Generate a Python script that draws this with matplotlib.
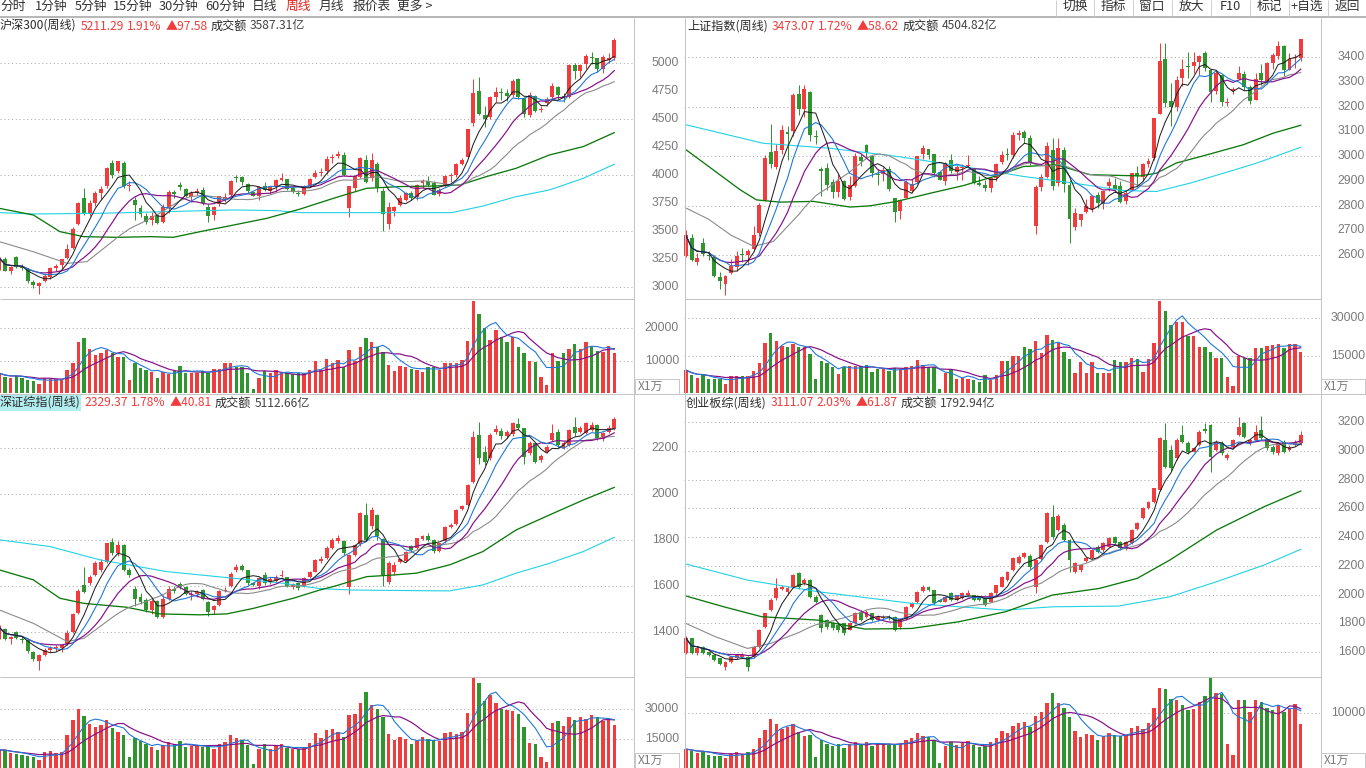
import numpy as np
import pandas as pd
import matplotlib
matplotlib.use("Agg")
import matplotlib.pyplot as plt
from matplotlib.patches import Rectangle
from matplotlib.lines import Line2D

# ---------------- data (weekly candles, 110 weeks) ----------------
# 沪深300
hs_open = [3164,3250,3140,3265,3170,3160,3045,3002,3050,3090, 3170,3190,3260,3350,3560,3790,3650,3750,3840,3900,
           4110,4040,4110,3900,3780,3700,3635,3595,3640,3580, 3700,3850,3910,3875,3800,3840,3870,3710,3640,3740,
           3780,3820,3980,3985,3920,3845,3810,3900,3860,3895, 3955,3960,3880,3840,3830,3905,3980,4020,4040,4150,
           4170,4180,3700,3880,3985,4130,3970,4100,3860,3560, 3680,3730,3780,3840,3800,3930,3950,3930,3830,3900,
           3995,4000,4100,4160,4469,4750,4540,4520,4700,4745, 4735,4720,4860,4690,4540,4710,4580,4640,4700,4790,
           4710,4700,4985,4930,4990,5060,5050,4950,5030,5045]
hs_high = [3270,3262,3185,3271,3200,3170,3060,3040,3115,3180, 3200,3250,3380,3530,3760,3880,3780,3860,3900,4070,
           4130,4126,4125,3950,3800,3730,3660,3670,3650,3740, 3865,3870,3940,3880,3856,3880,3890,3740,3720,3815,
           3840,3955,4000,3990,3930,3850,3905,3940,3905,3960, 4018,3965,3890,3870,3910,3970,4045,4060,4172,4190,
           4215,4205,3905,3995,4160,4175,4200,4120,3880,3760, 3720,3820,3845,3860,3915,3960,3990,3950,3880,4000,
           4020,4110,4150,4410,4860,4875,4620,4710,4790,4780, 4770,4860,4870,4700,4740,4715,4620,4700,4820,4800,
           4730,4990,5000,4990,5080,5100,5050,5070,5090,5225]
hs_low = [3150,3140,3110,3165,3150,3035,2991,2935,3045,3070, 3140,3160,3250,3340,3550,3640,3630,3720,3780,3880,
          3975,4020,3880,3860,3600,3620,3560,3550,3560,3570, 3660,3790,3870,3800,3760,3820,3730,3580,3600,3720,
          3760,3810,3935,3910,3840,3812,3780,3860,3830,3850, 3945,3870,3835,3815,3820,3890,3975,3990,4010,4110,
          4150,3990,3620,3860,3970,3925,3950,3850,3503,3520, 3630,3720,3770,3780,3780,3880,3900,3820,3810,3895,
          3940,3985,4090,4155,4440,4540,4430,4500,4650,4670, 4660,4700,4680,4520,4520,4560,4560,4620,4690,4680,
          4650,4690,4860,4880,4950,4990,4920,4910,5000,5030]
hs_close = [3255,3143,3173,3180,3165,3050,3011,3036,3095,3168, 3184,3247,3338,3520,3750,3658,3745,3836,3872,4062,
            4000,4121,3902,3913,3734,3649,3580,3630,3568,3717, 3851,3826,3894,3809,3838,3859,3747,3634,3709,3810,
            3800,3949,3972,3935,3853,3815,3896,3868,3895,3952, 3973,3877,3850,3828,3902,3968,4018,4022,4144,4163,
            4186,4004,3899,3988,4149,3940,4138,3895,3653,3711, 3714,3796,3839,3797,3913,3946,3912,3824,3868,3990,
            3996,4099,4138,4409,4736,4549,4505,4695,4740,4730, 4710,4843,4697,4542,4716,4570,4587,4681,4793,4712,
            4695,4981,4932,4983,5061,5044,4947,5059,5043,5211]
hs_vol = [6100,5000,4800,5300,4800,4000,3800,2800,4800,4500, 4200,4200,7100,9400,15700,17100,13500,11700,12300,13300,
          12500,11200,11200,4000,9200,7600,7100,6400,4800,6600, 5900,6900,8300,6300,6300,6300,6900,6300,7500,7400,
          9200,9400,8100,8100,6300,1200,4800,6800,6100,7100, 6300,6100,5900,6100,6100,7100,10000,7100,10400,9200,
          10200,8100,13300,10000,14100,16900,15700,14300,12800,8700, 6900,8300,8100,7500,7100,6600,8100,8100,7100,9200,
          9400,9200,10200,16200,28400,24400,20200,16400,19500,17400, 15900,17400,14300,12300,10000,9700,5000,2500,12300,10000,
          12300,13500,15100,13500,15900,14300,13000,12800,14500,12500]
hs_gray_head_x = [0, 6, 12, 15.5]
hs_gray_head = [3403, 3313, 3209, 3224]
hs_green_x = [0, 6, 10.7, 14.9, 20.8, 26.7, 30.8, 35.6, 41.5, 47.4, 53.3, 59.2, 65.1, 71, 76.9, 81.6, 86.3, 91.6, 97.5, 103.5, 109]
hs_green = [3701, 3642, 3493, 3448, 3442, 3448, 3442, 3493, 3552, 3612, 3695, 3791, 3881, 3896, 3901, 3910, 3985, 4060, 4179, 4254, 4379]
hs_cyan_x = [0, 6, 17.8, 29.6, 41.5, 49.1, 53.3, 62.2, 74, 80.2, 85.7, 91.6, 97.5, 103.5, 109]
hs_cyan = [3663, 3651, 3657, 3672, 3687, 3681, 3663, 3663, 3663, 3663, 3722, 3806, 3866, 3970, 4096]

# 上证指数
sh_open = [2598,2669,2572,2650,2600,2590,2510,2483,2528,2550, 2604,2601,2625,2690,2822,3016,2958,3024,3098,3102,
           3250,3189,3260,3081,2950,2951,2894,2856,2900,2836, 2881,2996,3045,3002,2928,2926,2948,2830,2780,2831,
           2858,2895,3009,3027,3009,2936,2899,2985,2935,2954, 2961,2946,2891,2883,2870,2911,2975,3006,3006,3087,
           3096,3073,2716,2876,2914,3026,2890,3024,2884,2715, 2742,2774,2786,2843,2806,2878,2883,2880,2818,2863,
           2931,2915,2969,2991,3169,3393,3222,3197,3317,3363, 3364,3382,3419,3350,3262,3328,3216,3262,3313,3333,
           3279,3228,3336,3304,3378,3404,3446,3347,3397,3398]
sh_high = [2700,2686,2610,2668,2615,2600,2530,2520,2584,2618, 2630,2625,2717,2810,3004,3130,3050,3125,3123,3256,
           3289,3289,3263,3107,2957,2973,2909,2926,2902,2921, 3014,3010,3049,3003,2947,2957,2961,2832,2828,2903,
           2907,3000,3044,3028,3007,2936,2978,3008,2967,2969, 3004,2946,2921,2903,2917,2971,3022,3035,3098,3107,
           3105,3086,2882,2926,3058,3074,3074,3036,2903,2790, 2765,2826,2840,2853,2860,2912,2911,2900,2865,2933,
           2961,2973,2993,3153,3458,3456,3294,3324,3392,3420, 3423,3411,3426,3351,3345,3330,3235,3280,3364,3344,
           3288,3338,3373,3381,3417,3465,3449,3416,3413,3474]
sh_low = [2590,2576,2560,2596,2580,2510,2463,2440,2524,2535, 2573,2560,2617,2675,2817,2952,2950,3010,2984,3080,
          3167,3160,3063,3050,2838,2863,2831,2836,2823,2822, 2875,2960,2995,2917,2882,2899,2860,2733,2746,2829,
          2850,2889,2987,2988,2917,2902,2883,2930,2902,2903, 2955,2886,2880,2860,2856,2900,2968,2985,2991,3066,
          3052,2966,2685,2860,2913,2865,2880,2855,2647,2701, 2718,2769,2773,2790,2788,2860,2854,2810,2808,2863,
          2876,2898,2957,2985,3169,3200,3122,3184,3282,3316, 3337,3328,3346,3221,3252,3202,3204,3250,3313,3267,
          3209,3227,3287,3290,3352,3394,3325,3347,3357,3383]
sh_close = [2679,2579,2588,2606,2594,2516,2494,2515,2554,2596, 2602,2618,2682,2804,2994,2970,3022,3104,3091,3247,
            3189,3271,3086,3078,2939,2882,2853,2899,2828,2882, 3002,2979,3011,2931,2924,2945,2868,2775,2824,2897,
            2886,3000,3031,3006,2932,2905,2974,2938,2955,2958, 2964,2891,2885,2872,2912,2968,3005,3005,3084,3092,
            3075,2977,2876,2917,3040,2880,3035,2887,2746,2772, 2764,2797,2838,2809,2860,2895,2868,2814,2852,2931,
            2920,2968,2980,3153,3383,3214,3197,3310,3354,3360, 3381,3404,3355,3260,3338,3219,3218,3272,3336,3278,
            3225,3313,3310,3378,3408,3445,3347,3395,3397,3473]
sh_vol = [9200,7200,6200,7100,5600,5500,5500,3600,7000,6800, 7000,6800,8700,11900,20200,24000,20900,18900,18400,19700,
          18600,18400,15700,5600,13000,11900,10300,7600,10300,10900, 10900,10900,11300,8400,9500,9500,9000,9900,9200,10300,
          10900,13300,11300,10600,10600,1700,7900,9500,5500,5900, 5500,5200,4600,7200,5200,7200,12900,13000,15000,14900,
          18600,17600,21000,16200,23300,21300,20200,16600,13800,7900, 12300,7900,12600,8200,8200,7900,13300,12600,12600,14200,
          13500,8600,13500,20200,37100,33100,27300,28700,28700,23000, 23000,18400,18400,16500,13900,13900,6300,2800,14900,13900,
          13900,18000,18000,18900,19300,19700,18000,19600,19600,16600]
sh_gray_head_x = [0, 4, 8, 12, 15.5]
sh_gray_head = [2790, 2745, 2680, 2635, 2655]
sh_green_x = [0, 4.8, 9.6, 12.5, 16.7, 22.6, 29.1, 32.6, 37.4, 43.3, 49.2, 55.7, 59.8, 65.7, 71.6, 80.5, 83.4, 86.9, 92.3, 98.8, 104.1, 109]
sh_green = [3026, 2945, 2864, 2823, 2814, 2817, 2794, 2799, 2817, 2850, 2881, 2925, 2958, 2965, 2925, 2920, 2931, 2972, 3005, 3046, 3093, 3125]
sh_cyan_x = [0, 13.7, 25.5, 37.4, 49.2, 59.8, 68.7, 77.5, 83.4, 89.4, 95.3, 101.2, 109]
sh_cyan = [3127, 3052, 3032, 2999, 2958, 2918, 2891, 2861, 2857, 2891, 2931, 2972, 3036]

# 深证综指
sz_open = [1380,1415,1370,1400,1372,1365,1316,1275,1300,1322, 1330,1333,1348,1400,1485,1606,1613,1650,1671,1707,
           1794,1743,1780,1671,1590,1555,1540,1497,1535,1468, 1545,1590,1610,1598,1560,1565,1584,1530,1495,1520,
           1580,1600,1670,1690,1670,1613,1600,1650,1620,1625, 1645,1640,1598,1613,1599,1642,1664,1710,1722,1765,
           1795,1795,1599,1736,1782,1910,1860,1910,1805,1620, 1660,1705,1710,1775,1765,1805,1820,1800,1755,1795,
           1858,1870,1935,1955,2055,2258,2186,2157,2270,2275, 2255,2260,2305,2287,2178,2222,2150,2185,2236,2270,
           2200,2214,2294,2270,2265,2280,2301,2240,2272,2285]
sz_high = [1430,1420,1385,1405,1385,1370,1320,1305,1330,1340, 1345,1350,1410,1485,1590,1686,1650,1710,1720,1790,
           1810,1795,1785,1680,1600,1570,1550,1545,1540,1560, 1600,1600,1620,1602,1580,1585,1590,1535,1520,1585,
           1595,1660,1695,1695,1672,1615,1640,1660,1640,1648, 1670,1642,1615,1615,1640,1668,1720,1730,1775,1810,
           1825,1800,1740,1785,1925,1960,1946,1915,1810,1710, 1705,1725,1755,1780,1812,1825,1830,1805,1790,1860,
           1875,1935,1955,2045,2275,2315,2210,2265,2300,2290, 2280,2315,2330,2290,2230,2225,2175,2215,2305,2285,
           2230,2285,2335,2295,2315,2315,2305,2270,2300,2335]
sz_low = [1370,1365,1350,1370,1355,1310,1275,1236,1298,1315, 1318,1315,1345,1395,1480,1570,1605,1645,1660,1700,
          1735,1730,1665,1640,1515,1525,1490,1480,1460,1460, 1540,1570,1590,1560,1540,1555,1540,1470,1480,1515,
          1575,1595,1660,1665,1605,1600,1590,1605,1610,1618, 1640,1595,1590,1585,1595,1638,1660,1700,1718,1760,
          1790,1735,1565,1730,1775,1795,1850,1800,1600,1610, 1650,1700,1705,1750,1760,1800,1795,1745,1750,1790,
          1855,1865,1930,1950,2050,2130,2128,2150,2260,2240, 2245,2255,2285,2130,2170,2135,2140,2180,2230,2200,
          2195,2210,2255,2265,2260,2275,2235,2230,2265,2280]
sz_close = [1420,1372,1378,1375,1365,1318,1285,1300,1322,1330, 1333,1345,1398,1480,1580,1577,1642,1700,1705,1787,
            1745,1780,1671,1650,1545,1533,1497,1535,1465,1545, 1590,1578,1598,1568,1565,1575,1545,1490,1515,1580,
            1585,1655,1683,1672,1615,1605,1635,1613,1633,1642, 1650,1600,1610,1592,1635,1664,1714,1718,1765,1800,
            1808,1743,1736,1780,1917,1801,1932,1820,1650,1700, 1693,1718,1751,1758,1809,1818,1800,1752,1787,1857,
            1866,1932,1950,2041,2251,2157,2142,2258,2285,2255, 2270,2309,2290,2164,2222,2142,2165,2205,2265,2214,
            2222,2280,2265,2287,2309,2302,2243,2265,2287,2329]
sz_vol = [9700,9500,8000,7500,7000,6500,6000,4500,8500,9000, 8000,8500,17200,24700,30000,26700,22700,21300,22200,24700,
          20500,18800,17200,6300,15500,14000,12500,11000,9500,12000, 13500,12500,14000,11000,11500,11500,11000,12000,10000,12500,
          13500,17000,15500,14500,12000,2500,10000,12500,10000,11500, 12500,10500,10000,10000,11000,13000,18000,15500,19500,20000,
          18500,16000,27000,27500,33000,38500,32000,30000,26000,17500, 14500,16000,15000,12500,14000,16000,15000,14500,14000,18000,
          18500,17500,18500,28000,46000,43000,34000,37000,33000,30000, 29500,29000,27500,21000,13000,12500,6000,3500,23000,24000,
          21500,26000,24500,26000,25000,27000,26000,24000,25000,22000]
sz_gray_head_x = [0, 6, 12, 15]
sz_gray_head = [1497, 1439, 1360, 1374]
sz_green_x = [0, 6, 10.7, 14.9, 22.5, 28.4, 35.5, 40.3, 45, 52.1, 56.8, 59.2, 65.1, 69.8, 73.9, 79.8, 85.7, 91.6, 97.5, 103.5, 109]
sz_green = [1671, 1628, 1548, 1526, 1509, 1480, 1476, 1480, 1504, 1548, 1584, 1599, 1642, 1649, 1657, 1693, 1751, 1845, 1910, 1975, 2030]
sz_cyan_x = [0, 8.9, 17.8, 29.6, 41.5, 50.3, 56.8, 62.2, 74, 79.8, 85.7, 91.6, 97.5, 103.5, 109]
sz_cyan = [1802, 1773, 1715, 1664, 1635, 1613, 1590, 1584, 1581, 1580, 1606, 1657, 1700, 1751, 1813]

# 创业板综
cy_open = [1590,1695,1590,1637,1602,1580,1555,1497,1532,1555, 1567,1567,1567,1637,1776,1892,1973,2040,2020,2055,
           2148,2078,2101,1985,1860,1822,1800,1790,1800,1755, 1800,1880,1845,1869,1822,1835,1846,1846,1775,1830,
           1915,1945,2025,2055,2032,1962,1950,2008,1962,1974, 2000,1997,1985,1974,1950,2008,2055,2101,2171,2217,
           2264,2270,2055,2250,2368,2543,2450,2485,2380,2159, 2170,2235,2252,2334,2310,2334,2403,2368,2320,2357,
           2455,2531,2601,2647,2728,3077,3007,2949,3112,3054, 2996,3042,3150,3181,3007,3054,2949,3030,3112,3193,
           3054,3077,3147,3080,3030,2984,3065,3007,3042,3054]
cy_high = [1710,1700,1640,1645,1610,1585,1560,1540,1575,1585, 1590,1575,1645,1760,1875,1975,2113,2070,2060,2145,
           2160,2115,2110,1995,1865,1830,1810,1800,1805,1810, 1880,1890,1890,1875,1855,1855,1855,1850,1840,1920,
           1950,2025,2065,2060,2035,1965,1990,2015,2000,2015, 2032,2000,1990,1980,2015,2070,2130,2165,2260,2275,
           2300,2280,2250,2355,2575,2624,2560,2500,2390,2230, 2215,2265,2320,2345,2365,2400,2410,2375,2375,2460,
           2505,2610,2655,2745,3100,3193,3040,3090,3181,3070, 3030,3145,3195,3190,3075,3070,2985,3085,3240,3200,
           3085,3181,3244,3090,3040,3065,3075,3040,3075,3140]
cy_low = [1585,1585,1580,1585,1570,1535,1510,1474,1525,1548, 1560,1470,1560,1630,1770,1885,1965,2030,2000,2050,
          2040,2070,1975,1940,1740,1760,1750,1740,1720,1750, 1795,1815,1840,1815,1815,1830,1825,1745,1760,1825,
          1910,1940,2020,2025,1930,1945,1945,1955,1955,1970, 1995,1955,1955,1920,1945,2000,2050,2095,2165,2210,
          2255,2180,2008,2240,2360,2390,2440,2370,2160,2150, 2160,2225,2245,2290,2300,2330,2350,2310,2310,2350,
          2450,2525,2595,2640,2720,2880,2860,2940,3055,2980, 2990,3035,3125,2856,3000,2975,2940,3025,3105,3090,
          3045,3070,3080,3010,2980,2975,2985,3000,3035,3040]
cy_close = [1695,1590,1625,1590,1580,1544,1520,1532,1567,1578, 1580,1497,1637,1753,1869,1962,2043,2050,2043,2136,
            2055,2101,1985,1950,1770,1776,1764,1755,1730,1800, 1869,1822,1880,1822,1846,1846,1834,1753,1830,1915,
            1940,2020,2055,2032,1939,1950,1985,1962,1997,2008, 2008,1962,1962,1927,2008,2066,2124,2159,2252,2264,
            2287,2190,2241,2345,2566,2403,2545,2380,2241,2217, 2206,2255,2310,2300,2357,2392,2357,2322,2368,2450,
            2496,2601,2647,2740,3088,2891,2880,3077,3065,2996, 3019,3135,3140,2961,3065,2984,2972,3077,3170,3100,
            3077,3135,3088,3020,2995,3054,2996,3030,3065,3111]
cy_vol = [3600,3300,2900,3100,2600,2400,2300,2000,2800,3000, 2800,3000,3600,5600,7000,9000,8000,7200,7500,8000,
          6600,6000,6200,2200,5200,4600,4200,4600,3800,4500, 4800,4600,4900,4200,4600,4500,4400,4300,4600,5200,
          5600,6500,6000,5700,5300,1100,4200,4800,4300,4700, 5000,4300,4000,4100,4800,5500,6900,6500,7800,8200,
          8400,7600,9500,10200,11800,13600,11800,11000,9400,6900, 5800,6300,6200,5200,5900,6400,6200,5900,6100,7300,
          7800,7200,8300,11000,14500,14300,12500,12300,11500,10500, 10800,12000,13000,16400,13700,13500,4500,2500,12300,12300,
          10200,12300,12000,11000,10500,11500,10200,10800,11700,8000]
cy_gray_head_x = [0, 5, 10.9, 15]
cy_gray_head = [1799, 1710, 1625, 1660]
cy_green_x = [0, 6.7, 13.4, 23.4, 31.7, 40, 48.4, 56.7, 65, 73.3, 80, 85.8, 94.1, 102.5, 109]
cy_green = [1990, 1915, 1846, 1822, 1760, 1764, 1811, 1881, 1997, 2043, 2113, 2241, 2450, 2612, 2721]
cy_cyan_x = [0, 10.9, 23.4, 40, 56.7, 65, 76.7, 85.8, 94.1, 102.5, 109]
cy_cyan = [2213, 2101, 2020, 1939, 1892, 1915, 1920, 1985, 2090, 2206, 2315]

# axis ticks / labels
hs_grid = [3000, 3500, 4000, 4500, 5000]
hs_labels = [3000, 3250, 3500, 3750, 4000, 4250, 4500, 4750, 5000]
sh_grid = [2600, 2800, 3000, 3200, 3400]
sh_labels = [2600, 2700, 2800, 2900, 3000, 3100, 3200, 3300, 3400]
sz_grid = [1400, 1600, 1800, 2000, 2200]
sz_labels = [1400, 1600, 1800, 2000, 2200]
cy_grid = [1600, 1800, 2000, 2200, 2400, 2600, 2800, 3000, 3200]
cy_labels = [1600, 1800, 2000, 2200, 2400, 2600, 2800, 3000, 3200]
hs_vol_grid = [10000, 20000]
sh_vol_grid = [15000, 30000]
sz_vol_grid = [15000, 30000]
cy_vol_grid = [10000]

menu_items = ["分时", "1分钟", "5分钟", "15分钟", "30分钟", "60分钟", "日线", "周线", "月线", "报价表", "更多 >"]
menu_x = [0, 35, 75, 113, 159, 205, 252, 286, 319, 353, 397]
button_items = ["切换", "指标", "窗口", "放大", "F10", "标记", "+自选", "返回"]
button_cx = [1075, 1113, 1152, 1191, 1230, 1269, 1307, 1347]
button_sep = [1055.5, 1093.5, 1132.5, 1171.5, 1210.5, 1249.5, 1288.5, 1327.5]

# ---------------- style ----------------
W, H = 1366, 768
RED = "#f03c3c"
GRN = "#2f962f"
C_MA5 = "#1c1c1c"
C_MA8 = "#1e78d8"
C_MA13 = "#86108a"
C_MA21 = "#8a8a8a"
C_MA55 = "#0a780a"
C_MA120 = "#1fd2e4"
GRID = "#b4b4b4"
FRAME = "#c4c4c4"
AXTXT = "#7a7a7a"
CJK = ["Noto Sans CJK SC", "DejaVu Sans"]
NUM = ["Liberation Sans", "DejaVu Sans"]
PX = 0.72  # one pixel in points

fig = plt.figure(figsize=(W / 100, H / 100), dpi=100)
fig.patch.set_facecolor("white")
renderer = fig.canvas.get_renderer()


def add_ax(x, y, w, h):
    ax = fig.add_axes([x / W, 1 - (y + h) / H, w / W, h / H])
    ax.set_axis_off()
    ax.patch.set_alpha(0)
    return ax


def T(x, y, s, **kw):
    kw.setdefault("va", "center")
    kw.setdefault("ha", "left")
    return fig.text(x / W, 1 - y / H, s, **kw)


def L(x0, y0, x1, y1, color=FRAME, lw=1.0, **kw):
    fig.add_artist(Line2D([x0 / W, x1 / W], [1 - y0 / H, 1 - y1 / H], color=color,
                          lw=lw * PX, solid_capstyle="butt", **kw))


def ma(vals, n):
    return pd.Series(vals, dtype=float).rolling(n, min_periods=1).mean().to_numpy()


def price_panel(rect, xlim, ylim, o, h, l, c, gray_hx, gray_hy, gx, gy, cx, cy, grid):
    ax = add_ax(*rect)
    ax.set_xlim(*xlim)
    ax.set_ylim(*ylim)
    o, h, l, c = (np.asarray(a, float) for a in (o, h, l, c))
    idx = np.arange(len(c))
    ax.hlines(grid, xlim[0], xlim[1], colors=GRID, lw=PX, linestyles=(0, (1.2, 2.6)), zorder=0)
    up = c >= o
    col = np.where(up, RED, GRN)
    hi = np.maximum(h, np.maximum(o, c))
    lo = np.minimum(l, np.minimum(o, c))
    ax.vlines(idx, lo, hi, colors=col, lw=PX, zorder=2)
    onepx = (ylim[1] - ylim[0]) / rect[3]
    ax.bar(idx, np.maximum(np.abs(c - o), onepx), bottom=np.minimum(o, c), width=0.7,
           color=col, lw=0, zorder=3)
    ax.plot(cx, cy, color=C_MA120, lw=1.1 * PX, zorder=4)
    ax.plot(gx, gy, color=C_MA55, lw=1.3 * PX, zorder=4)
    m21 = ma(c, 21)
    ax.plot(list(gray_hx) + list(range(20, len(c))), list(gray_hy) + list(m21[20:]),
            color=C_MA21, lw=1.1 * PX, zorder=5)
    ax.plot(idx, ma(c, 13), color=C_MA13, lw=1.2 * PX, zorder=6)
    ax.plot(idx, ma(c, 8), color=C_MA8, lw=1.1 * PX, zorder=7)
    ax.plot(idx, ma(c, 5), color=C_MA5, lw=1.0 * PX, zorder=8)
    return up


def vol_panel(rect, xlim, ylim, v, up, grid):
    ax = add_ax(*rect)
    ax.set_xlim(*xlim)
    ax.set_ylim(*ylim)
    v = np.asarray(v, float)
    idx = np.arange(len(v))
    ax.hlines(grid, xlim[0], xlim[1], colors=GRID, lw=PX, linestyles=(0, (1.2, 2.6)), zorder=0)
    ax.bar(idx, v, bottom=0, width=0.6, color=np.where(up, RED, GRN), lw=0, zorder=2)
    ax.plot(idx, ma(v, 10), color=C_MA13, lw=1.2 * PX, zorder=4)
    ax.plot(idx, ma(v, 5), color=C_MA8, lw=1.1 * PX, zorder=5)


SP = 5.64
XL_LEFT = ((0 + 0.5) / SP, (633 + 0.5) / SP)        # left panels: candle i at x = -0.5 + 5.64 i
XL_RIGHT = ((684 - 686) / SP, (1320 - 686) / SP)     # right panels: candle i at x = 686 + 5.64 i

# --- panels ---
up = price_panel((0, 18, 633, 281), XL_LEFT, (2890, 5405), hs_open, hs_high, hs_low, hs_close,
                 hs_gray_head_x, hs_gray_head, hs_green_x, hs_green, hs_cyan_x, hs_cyan, hs_grid)
vol_panel((0, 299, 633, 94), XL_LEFT, (30, 29043), hs_vol, up, hs_vol_grid)

up = price_panel((684, 18, 636, 281), XL_RIGHT, (2422, 3559), sh_open, sh_high, sh_low, sh_close,
                 sh_gray_head_x, sh_gray_head, sh_green_x, sh_green, sh_cyan_x, sh_cyan, sh_grid)
vol_panel((684, 299, 636, 94), XL_RIGHT, (40, 37740), sh_vol, up, sh_vol_grid)

up = price_panel((0, 394, 633, 282), XL_LEFT, (1210, 2436), sz_open, sz_high, sz_low, sz_close,
                 sz_gray_head_x, sz_gray_head, sz_green_x, sz_green, sz_cyan_x, sz_cyan, sz_grid)
vol_panel((0, 676, 633, 92), XL_LEFT, (650, 46650), sz_vol, up, sz_vol_grid)

up = price_panel((684, 394, 636, 282), XL_RIGHT, (1433, 3397), cy_open, cy_high, cy_low, cy_close,
                 cy_gray_head_x, cy_gray_head, cy_green_x, cy_green, cy_cyan_x, cy_cyan, cy_grid)
vol_panel((684, 676, 636, 92), XL_RIGHT, (232, 16660), cy_vol, up, cy_vol_grid)

# --- frame lines ---
L(0, 16.5, W, 16.5, color="#b8b8b8", lw=2)
for xs in button_sep:
    L(xs, 0, xs, 15.5, color="#cfcfcf")
for xs in (633.5, 684.5, 1320.5):
    L(xs, 17.5, xs, H, color=FRAME)
L(0, 299.5, 633.5, 299.5)
L(684.5, 299.5, 1320.5, 299.5)
L(0, 393.5, W, 393.5)
L(0, 676.5, 633.5, 676.5)
L(684.5, 676.5, 1320.5, 676.5)

# --- menu ---
for s, x in zip(menu_items, menu_x):
    T(x, 6.5, s, fontsize=9.2, color=("#e8231c" if s == "周线" else "#333333"), family=CJK)
for s, x in zip(button_items, button_cx):
    T(x, 6.5, s, fontsize=9.2, color="#333333", family=CJK, ha="center")


# --- axis labels ---
def ylab(vals, v0, y0, ppu, x, ha):
    for v in vals:
        T(x, y0 - (v - v0) * ppu, str(v), fontsize=8.8, color=AXTXT, family=NUM, ha=ha)


ylab(hs_labels, 3000, 286.7, 0.1117, 679, "right")
ylab(sh_labels, 2600, 255.0, 0.2471, 1365, "right")
ylab(sz_labels, 1400, 632.3, 0.23, 679, "right")
ylab(cy_labels, 1600, 652.0, 0.14356, 1365, "right")
ylab(hs_vol_grid, 0, 393.1, 32.4 / 10000, 679, "right")
ylab(sh_vol_grid, 0, 393.1, 37.4 / 15000, 1365, "right")
ylab(sz_vol_grid, 0, 769.3, 30.0 / 15000, 679, "right")
ylab(cy_vol_grid, 0, 769.3, 56.0 / 10000, 1365, "right")

for bx, by in ((635, 379), (1321, 379), (635, 753), (1321, 753)):
    fig.add_artist(Rectangle((bx / W, 1 - (by + 15) / H), 44 / W, 15 / H, transform=fig.transFigure,
                             fill=False, edgecolor="#c8c8c8", lw=PX))
    T(bx + 3, by + 7.5, "X1万", fontsize=8.6, color=AXTXT, family=CJK)

# --- titles (pieces laid out left to right with small gaps) ---
fig.add_artist(Rectangle((0, 1 - 411 / H), 81 / W, 16 / H, transform=fig.transFigure,
                         facecolor="#b2eef0", edgecolor="none"))
DARK = "#2a2a2a"
title_gaps = [4, 2.5, 4.5, 3, 3]
titles = [
    (0, 26, [("沪深300(周线)", DARK), ("5211.29", RED), ("1.91%", RED), ("▲97.58", RED),
             ("成交额", DARK), ("3587.31亿", "#444444")]),
    (687, 26, [("上证指数(周线)", DARK), ("3473.07", RED), ("1.72%", RED), ("▲58.62", RED),
               ("成交额", DARK), ("4504.82亿", "#444444")]),
    (0, 403, [("深证综指(周线)", DARK), ("2329.37", RED), ("1.78%", RED), ("▲40.81", RED),
              ("成交额", DARK), ("5112.66亿", "#444444")]),
    (686, 403, [("创业板综(周线)", DARK), ("3111.07", RED), ("2.03%", RED), ("▲61.87", RED),
                ("成交额", DARK), ("1792.94亿", "#444444")]),
]
for x0, yy, parts in titles:
    x = x0
    for k, (s, colr) in enumerate(parts):
        t = T(x, yy, s, fontsize=8.7, color=colr, family=CJK)
        wpx = t.get_window_extent(renderer).width
        if k < len(title_gaps):
            x = x + wpx + title_gaps[k]

fig.savefig("out.png", dpi=100, facecolor="white")
